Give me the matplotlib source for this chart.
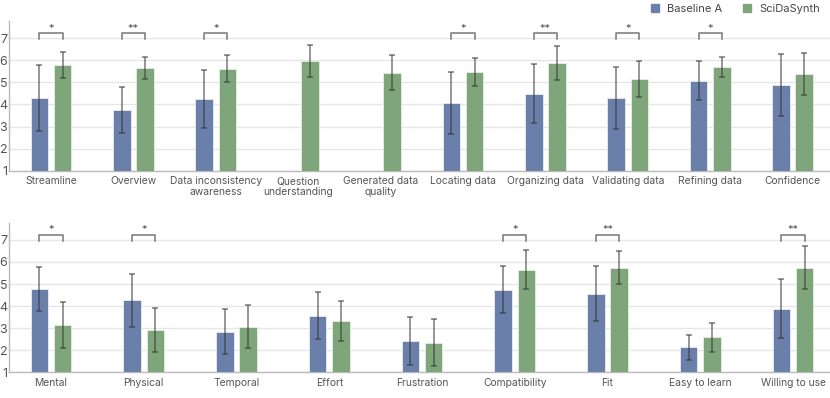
import numpy as np
import matplotlib.pyplot as plt
from matplotlib.lines import Line2D

plt.rcParams['font.family'] = ['Inter', 'DejaVu Sans']

# top panel: task ratings (7-point Likert)
top_cats = ['Streamline', 'Overview', 'Data inconsistency\nawareness', 'Question\nunderstanding',
            'Generated data\nquality', 'Locating data', 'Organizing data', 'Validating data',
            'Refining data', 'Confidence']
top_base = [4.31, 3.75, 4.24, np.nan, np.nan, 4.07, 4.48, 4.31, 5.08, 4.88]
top_base_sd = [1.49, 1.03, 1.32, np.nan, np.nan, 1.42, 1.34, 1.40, 0.88, 1.42]
top_syn = [5.79, 5.65, 5.62, 5.96, 5.44, 5.47, 5.87, 5.15, 5.71, 5.38]
top_syn_sd = [0.58, 0.49, 0.62, 0.72, 0.79, 0.64, 0.77, 0.81, 0.45, 0.97]
top_sig = ['*', '**', '*', '', '', '*', '**', '*', '*', '']

# bottom panel: NASA-TLX + usability
bot_cats = ['Mental', 'Physical', 'Temporal', 'Effort', 'Frustration', 'Compatibility',
            'Fit', 'Easy to learn', 'Willing to use']
bot_base = [4.77, 4.26, 2.83, 3.57, 2.40, 4.74, 4.56, 2.14, 3.89]
bot_base_sd = [1.00, 1.20, 1.02, 1.07, 1.09, 1.06, 1.24, 0.57, 1.33]
bot_syn = [3.15, 2.91, 3.07, 3.33, 2.35, 5.65, 5.74, 2.58, 5.74]
bot_syn_sd = [1.03, 0.99, 0.97, 0.90, 1.07, 0.89, 0.75, 0.67, 0.97]
bot_sig = ['*', '*', '', '', '', '*', '**', '', '**']

BLUE = '#6b7fab'
GREEN = '#7fa67a'

fig = plt.figure(figsize=(8.3, 3.98), dpi=100)
W = 830.0
H = 398.0


def draw_panel(ax, cats, base, base_sd, syn, syn_sd, sig, spacing_px):
    n = len(cats)
    x = np.arange(n)
    bar_w = 17.5 / spacing_px  # same pixel width in both panels
    off = 11.6 / spacing_px
    base = np.array(base)
    syn = np.array(syn)
    err_kw = dict(ecolor='#333333', elinewidth=1.1, capsize=2.2, capthick=1.1, alpha=0.65)
    ax.bar(x - off, base - 1, bar_w, bottom=1, color=BLUE, edgecolor='#e8ecf4', linewidth=0.6,
           yerr=base_sd, error_kw=err_kw, zorder=3)
    ax.bar(x + off, syn - 1, bar_w, bottom=1, color=GREEN, edgecolor='#e6efe4', linewidth=0.6,
           yerr=syn_sd, error_kw=err_kw, zorder=3)

    # significance brackets
    for i, s in enumerate(sig):
        if s:
            ax.plot([i - off, i - off, i + off, i + off], [6.97, 7.22, 7.22, 6.97],
                    color='#777777', lw=1.1, zorder=4, clip_on=False)
            ax.text(i, 7.2, s, ha='center', va='bottom', fontsize=8, color='#555555')

    ax.set_xticks(x)
    ax.set_xticklabels(cats, fontsize=7.4, color='#555555', linespacing=1.1)
    ax.set_xlim(-(51 - 9.3) / spacing_px, (830 - 51) / spacing_px)
    ax.set_ylim(1, 7.78)
    ax.set_yticks(range(1, 8))
    ax.tick_params(axis='y', labelsize=9, colors='#555555', length=0, pad=1.5)
    ax.tick_params(axis='x', length=0, pad=4)
    ax.grid(axis='y', color='#e6e6e6', lw=1, zorder=0)
    for sp in ['top', 'right']:
        ax.spines[sp].set_visible(False)
    for sp in ['left', 'bottom']:
        ax.spines[sp].set_color('#bbbbbb')
        ax.spines[sp].set_linewidth(1)


ax1 = fig.add_axes([9.3 / W, 1 - 170.7 / H, 820.7 / W, 149.7 / H])
draw_panel(ax1, top_cats, top_base, top_base_sd, top_syn, top_syn_sd, top_sig, 82.4)

ax2 = fig.add_axes([9.3 / W, 1 - 372.3 / H, 820.7 / W, 149.6 / H])
draw_panel(ax2, bot_cats, bot_base, bot_base_sd, bot_syn, bot_syn_sd, bot_sig, 92.75)

handles = [Line2D([], [], marker='s', ls='', color=BLUE, markersize=6),
           Line2D([], [], marker='s', ls='', color=GREEN, markersize=6)]
fig.legend(handles, ['Baseline A', 'SciDaSynth'], loc='upper right', bbox_to_anchor=(1.0, 1.015),
           ncol=2, frameon=False, fontsize=8, handletextpad=0.1, columnspacing=1.2,
           labelcolor='#444444')

plt.savefig('out.png', dpi=100)
